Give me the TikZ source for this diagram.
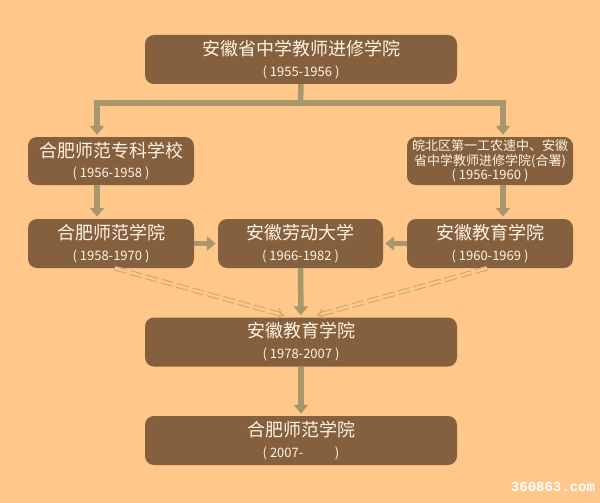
\documentclass[tikz,border=0pt]{standalone}
\usepackage{fontspec}
\setmainfont{Noto Sans CJK SC}
\newfontfamily\markfont{Liberation Mono}
\usetikzlibrary{arrows.meta}

\definecolor{bgpeach}{HTML}{FFC88A}
\definecolor{boxbrown}{HTML}{85603E}
\definecolor{linkolive}{HTML}{A8976A}
\definecolor{dashpale}{HTML}{C9A876}
\definecolor{textcream}{HTML}{FFF3E2}

\newcommand{\yearline}[1]{{\fontsize{13pt}{14pt}\selectfont ( #1 )}}

\begin{document}
\begin{tikzpicture}[x=1pt, y=-1pt,
		box/.style={rectangle, rounded corners=9pt, fill=boxbrown, text=textcream,
			align=center, inner sep=0pt, font=\fontsize{18pt}{21pt}\selectfont},
		widebox/.style={box, minimum width=312pt, minimum height=49pt},
		smallbox/.style={box, minimum width=166pt, minimum height=48pt},
		link/.style={draw=linkolive, line width=5.5pt},
		arrow/.style={link, -{Triangle[width=14pt,length=9pt]}, shorten >=2pt},
		ghost/.style={draw=dashpale, double=bgpeach, double distance=2.6pt, line width=1.1pt,
			dash pattern=on 12pt off 4pt, -{Implies[scale=1.4]}, shorten >=7pt}]
		\useasboundingbox[fill=bgpeach] (0,0) rectangle (600,503);
		% boxes
		\node[widebox] (top) at (301,59.5) {安徽省中学教师进修学院\\[0pt]\yearline{1955-1956}};
		\node[smallbox] (l2) at (111,161) {合肥师范专科学校\\[-1pt]\yearline{1956-1958}};
		\node[smallbox, font=\fontsize{13pt}{14.5pt}\selectfont] (r2) at (490,161)
			{皖北区第一工农速中、安徽\\省中学教师进修学院(合署)\\\yearline{1956-1960}};
		\node[smallbox, minimum height=49pt] (l3) at (111,243.5) {合肥师范学院\\[0pt]\yearline{1958-1970}};
		\node[smallbox, minimum height=49pt, minimum width=165pt] (m3) at (300.5,243.5) {安徽劳动大学\\[0pt]\yearline{1966-1982}};
		\node[smallbox, minimum height=49pt] (r3) at (490,243.5) {安徽教育学院\\[0pt]\yearline{1960-1969}};
		\node[widebox] (b4) at (301,342) {安徽教育学院\\[0pt]\yearline{1978-2007}};
		\node[widebox] (b5) at (301,440.5) {合肥师范学院\\[0pt]\yearline{2007-\hspace{2.2em}}};
		\node[text=white, font=\markfont\bfseries\fontsize{14pt}{16pt}\selectfont] (mark) at (553,487) {360863.com};
		% connectors
		\coordinate (split) at (300.5,103);
		\draw[link] (top.south) -- (split);
		\draw[arrow] (split) -| ([xshift=-14pt]l2.north);
		\draw[arrow] (split) -| ([xshift=13pt]r2.north);
		\draw[arrow] ([xshift=-14pt]l2.south) -- ([xshift=-14pt]l3.north);
		\draw[arrow] ([xshift=13pt]r2.south) -- ([xshift=13pt]r3.north);
		\draw[arrow] (l3) -- (m3);
		\draw[arrow] (r3) -- (m3);
		\draw[ghost] ([xshift=4pt]l3.south) -- ([xshift=-10pt]b4.north);
		\draw[ghost] ([xshift=-3pt]r3.south) -- ([xshift=9pt]b4.north);
		\draw[arrow] (m3) -- (b4);
		\draw[arrow] (b4) -- (b5);
	\end{tikzpicture}
\end{document}
